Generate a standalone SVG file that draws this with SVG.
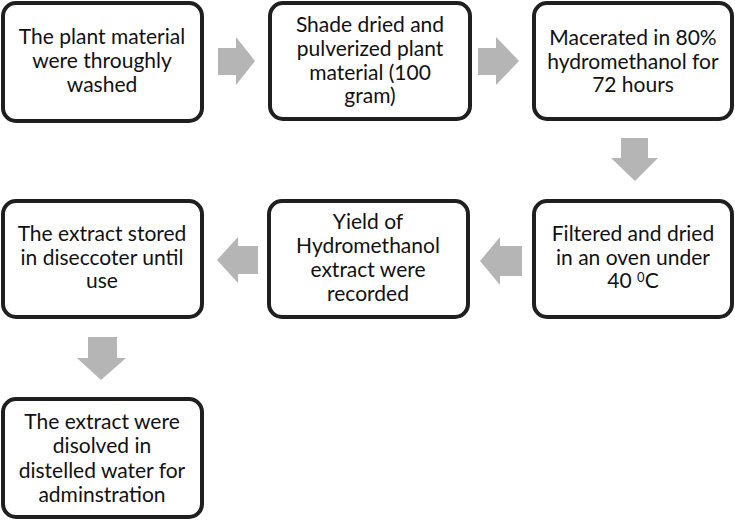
<svg xmlns="http://www.w3.org/2000/svg" width="735" height="520" viewBox="0 0 735 520">
<style>
.box{fill:#fff;stroke:#1f1f1f;stroke-width:4}
.arr{fill:#b5b5b5}
text{font-family:Lato,"Open Sans","Liberation Sans",sans-serif;font-size:21px;fill:#111;text-anchor:middle}
</style>
<rect width="735" height="520" fill="#fff"/>
<g id="connectors">
<polygon class="arr" points="218,48 236,48 236,37 255,61 236,85 236,75 218,75"/>
<polygon class="arr" points="478,48 496,48 496,37 519,61 496,85 496,75 478,75"/>
<polygon class="arr" points="621,138 648,138 648,158 658,158 635,181 611,158 621,158"/>
<polygon class="arr" points="522,246 500,246 500,237 480,261 500,285 500,276 522,276"/>
<polygon class="arr" points="258,246 238,246 238,237 217,260 238,283 238,274 258,274"/>
<polygon class="arr" points="88,337 117,337 117,358 126,358 101,380 77,358 88,358"/>
</g>
<g id="n1"><rect class="box" x="3" y="3" width="199" height="118" rx="13"/>
<text x="102" y="44">The plant material</text><text x="102" y="68">were throughly</text><text x="102" y="92">washed</text></g>
<g id="n2"><rect class="box" x="270" y="3" width="200" height="116" rx="13"/>
<text x="370" y="32">Shade dried and</text><text x="370" y="56">pulverized plant</text><text x="370" y="80">material (100</text><text x="370" y="103">gram)</text></g>
<g id="n3"><rect class="box" x="534" y="3" width="198" height="116" rx="13"/>
<text x="633" y="45">Macerated in 80%</text><text x="633" y="69">hydromethanol for</text><text x="633" y="92">72 hours</text></g>
<g id="n4"><rect class="box" x="534" y="201" width="198" height="116" rx="13"/>
<text x="633" y="241">Filtered and dried</text><text x="633" y="265">in an oven under</text><text x="633" y="288">40 <tspan font-size="13" dy="-6">0</tspan><tspan dy="6">C</tspan></text></g>
<g id="n5"><rect class="box" x="269" y="201" width="199" height="116" rx="13"/>
<text x="368" y="229">Yield of</text><text x="368" y="253">Hydromethanol</text><text x="368" y="277">extract were</text><text x="368" y="301">recorded</text></g>
<g id="n6"><rect class="box" x="3" y="201" width="199" height="116" rx="13"/>
<text x="102" y="241">The extract stored</text><text x="102" y="265">in diseccoter until</text><text x="102" y="288">use</text></g>
<g id="n7"><rect class="box" x="3" y="399" width="199" height="118" rx="13"/>
<text x="102" y="429">The extract were</text><text x="102" y="453">disolved in</text><text x="102" y="478">distelled water for</text><text x="102" y="502">adminstration</text></g>
</svg>
